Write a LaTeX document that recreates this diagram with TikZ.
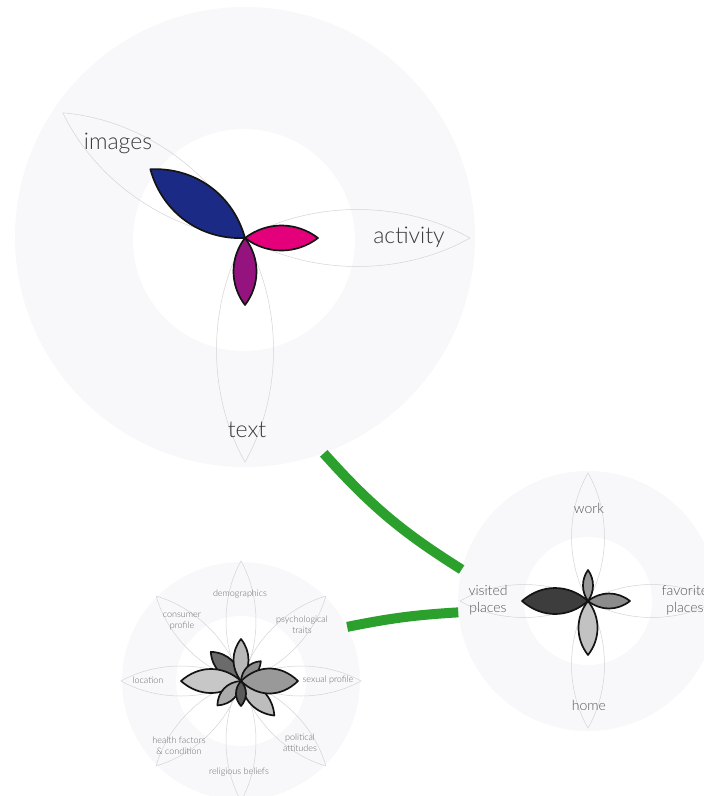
\documentclass[tikz,border=0pt]{standalone}
\usepackage{fontspec}
\setmainfont{Lato}[UprightFont={* Light}]
\definecolor{discgray}{RGB}{248,248,250}
\definecolor{veingray}{RGB}{212,212,214}
\definecolor{linkgreen}{RGB}{44,160,44}
\definecolor{inkblue}{RGB}{27,43,133}
\definecolor{inkpink}{RGB}{227,0,122}
\definecolor{inkplum}{RGB}{149,19,127}
\definecolor{labelgray}{RGB}{58,58,58}
\definecolor{smallgray}{RGB}{105,105,105}

% A pointed lens leaf: [style] hub, angle, length, width
\newcommand\leaf[5][]{%
  \path[#1, shift={(#2)}, rotate=#3]
    (0,0) .. controls ({0.3*#4},{2*#5/3}) and ({0.7*#4},{2*#5/3}) .. (#4,0)
          .. controls ({0.7*#4},{-2*#5/3}) and ({0.3*#4},{-2*#5/3}) .. (0,0) -- cycle;}

\begin{document}
\begin{tikzpicture}[x=1pt,y=1pt,
  disc/.style={circle, fill=discgray, draw=none, inner sep=0pt, minimum size=#1},
  core/.style={circle, fill=white, draw=none, inner sep=0pt, minimum size=#1},
  vein/.style={draw=veingray, line width=0.5pt},
  petal/.style={draw=black!92, line width=1.7pt, line join=round, fill=#1},
  biglabel/.style={font=\fontsize{23}{26}\selectfont, text=labelgray, inner sep=0pt},
  midlabel/.style={font=\fontsize{14}{17}\selectfont, text=labelgray!85, inner sep=0pt, align=center},
  smalllabel/.style={font=\fontsize{9}{11}\selectfont, text=smallgray, inner sep=0pt, align=center},
  link/.style={draw=linkgreen, line width=10pt}]
\useasboundingbox (0,0) rectangle (704,-796);
\clip (0,0) rectangle (704,-796);

% ---- background discs ----
\node[disc=460pt] (social) at (245,-237) {};
\node[core=222pt] (socialcore) at (244,-240) {};
\node[disc=260pt] (places) at (588,-601) {};
\node[core=128pt] (placescore) at (588,-601) {};
\node[disc=238pt] (personal) at (241,-681) {};
\node[core=130pt] (personalcore) at (241,-681) {};

\coordinate (socialhub) at (245,-238);
\coordinate (placeshub) at (588,-601);
\coordinate (personalhub) at (241,-681);

% ---- connectors ----
\draw[link] (social.-70) to[bend right=8] (places.166);
\draw[link] (personal.27) to[bend left=4] (places.185);

% ---- social flower ----
\leaf[vein]{socialhub}{145.5}{221}{57}
\leaf[vein]{socialhub}{0}{225}{57}
\leaf[vein]{socialhub}{-90}{224}{57}
\leaf[petal=inkblue]{socialhub}{144}{117}{42}
\leaf[petal=inkpink]{socialhub}{0}{73}{25}
\leaf[petal=inkplum]{socialhub}{-90}{67}{23}

\node[biglabel] (images) at (118,-143) {images};
\node[biglabel] (activity) at (409,-237) {activity};
\node[biglabel] (text) at (247,-430) {text};

% ---- places flower ----
\leaf[vein]{placeshub}{90}{128}{33}
\leaf[vein]{placeshub}{180}{128}{33}
\leaf[vein]{placeshub}{0}{128}{33}
\leaf[vein]{placeshub}{-90}{127}{33}
\leaf[petal={black!76}]{placeshub}{180}{66}{26}
\leaf[petal={black!45}]{placeshub}{0}{42}{15}
\leaf[petal={black!40}]{placeshub}{90}{31}{10}
\leaf[petal={black!24}]{placeshub}{-90}{54}{19}

\node[midlabel] (work) at (589,-508) {work};
\node[midlabel] (visited) at (488,-600) {visited\\places};
\node[midlabel] (favorite) at (685,-600) {favorite\\places};
\node[midlabel] (home) at (589,-705) {home};

% ---- personal flower ----
\foreach \a in {0,45,...,315}{
  \leaf[vein]{personalhub}{\a}{120}{30}
}
\leaf[petal={black!58}]{personalhub}{136}{42}{17}
\leaf[petal={black!28}]{personalhub}{90}{42}{15}
\leaf[petal={black!45}]{personalhub}{45}{28}{11}
\leaf[petal={black!26}]{personalhub}{-46}{48}{18}
\leaf[petal={black!40}]{personalhub}{0}{57}{25}
\leaf[petal={black!22}]{personalhub}{180}{60}{24}
\leaf[petal={black!33}]{personalhub}{-134}{34}{14}
\leaf[petal={black!65}]{personalhub}{-90}{25}{10}

\node[smalllabel] (demographics) at (240,-594) {demographics};
\node[smalllabel] (consumer) at (182,-622) {consumer\\profile};
\node[smalllabel] (psych) at (302,-625) {psychological\\traits};
\node[smalllabel] (sexual) at (328,-680) {sexual profile};
\node[smalllabel] (location) at (148,-680) {location};
\node[smalllabel] (health) at (179,-746) {health factors\\\& condition};
\node[smalllabel] (political) at (300,-743) {political\\attitudes};
\node[smalllabel] (religious) at (239,-772) {religious beliefs};
\end{tikzpicture}
\end{document}
